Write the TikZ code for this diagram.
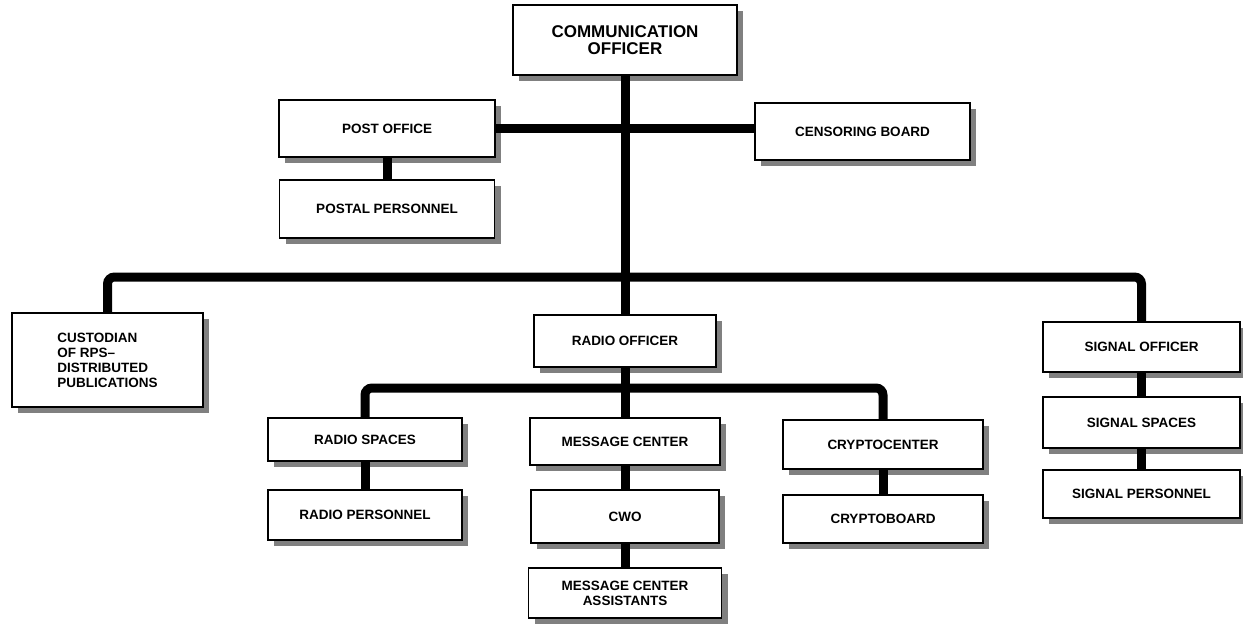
\documentclass[tikz,border=0pt]{standalone}
\usepackage{fontspec}
\newfontfamily\labfont{Liberation Sans}
\usetikzlibrary{shadows}
\begin{document}
\begin{tikzpicture}[x=1pt,y=-1pt,
  box/.style={draw=black, line width=1.8pt, fill=white,
    font=\labfont\bfseries\fontsize{13.5}{15}\selectfont, align=center, inner sep=2pt,
    drop shadow={shadow xshift=6pt, shadow yshift=-6pt, fill=black!50, opacity=1}},
  big/.style={font=\labfont\bfseries\fontsize{17}{17}\selectfont},
  conn/.style={line width=9pt, rounded corners=7pt}]
\useasboundingbox (0,0) rectangle (1243,626);
\coordinate (bar) at (0,277);
\coordinate (rbar) at (0,388);
% nodes
\node[box, big, minimum width=224pt, minimum height=70pt] (comm) at (625,40) {COMMUNICATION\\OFFICER};
\node[box, minimum width=216pt, minimum height=57pt] (post) at (387,128.5) {POST OFFICE};
\node[box, minimum width=215pt, minimum height=58pt] (postal) at (387,209) {POSTAL PERSONNEL};
\node[box, minimum width=215pt, minimum height=57pt] (censor) at (862.5,131.5) {CENSORING BOARD};
\node[box, minimum width=191pt, minimum height=94pt, align=left] (cust) at (107.5,360) {CUSTODIAN\\OF RPS–\\DISTRIBUTED\\PUBLICATIONS};
\node[box, minimum width=182pt, minimum height=52pt] (radio) at (625,341) {RADIO OFFICER};
\node[box, minimum width=197pt, minimum height=50pt] (signal) at (1141.5,347) {SIGNAL OFFICER};
\node[box, minimum width=197pt, minimum height=51pt] (sspaces) at (1141.5,422.5) {SIGNAL SPACES};
\node[box, minimum width=197pt, minimum height=48pt] (spers) at (1141.5,494) {SIGNAL PERSONNEL};
\node[box, minimum width=194pt, minimum height=43pt] (rspaces) at (365,439.5) {RADIO SPACES};
\node[box, minimum width=194pt, minimum height=50pt] (rpers) at (365,515) {RADIO PERSONNEL};
\node[box, minimum width=190pt, minimum height=47pt] (msgc) at (625,441.5) {MESSAGE CENTER};
\node[box, minimum width=188pt, minimum height=53pt] (cwo) at (625,516.5) {CWO};
\node[box, minimum width=193pt, minimum height=50pt] (mca) at (625,593) {MESSAGE CENTER\\ASSISTANTS};
\node[box, minimum width=200pt, minimum height=49pt] (crypto) at (883,444.5) {CRYPTOCENTER};
\node[box, minimum width=200pt, minimum height=48pt] (cboard) at (883,519) {CRYPTOBOARD};
% connectors
\draw[conn] (comm.south) -- (radio.north);
\draw[conn] (post.east) -- (post.east -| censor.west);
\draw[conn] (post.south) -- (postal.north);
\draw[conn] (cust.north) -- (cust.north |- bar) -- (signal.north |- bar) -- (signal.north);
\draw[conn] (radio.south) -- (msgc.north);
\draw[conn] (rspaces.north) -- (rspaces.north |- rbar) -- (crypto.north |- rbar) -- (crypto.north);
\draw[conn] (rspaces.south) -- (rpers.north);
\draw[conn] (msgc.south) -- (cwo.north);
\draw[conn] (cwo.south) -- (mca.north);
\draw[conn] (crypto.south) -- (cboard.north);
\draw[conn] (signal.south) -- (sspaces.north);
\draw[conn] (sspaces.south) -- (spers.north);
\end{tikzpicture}
\end{document}
